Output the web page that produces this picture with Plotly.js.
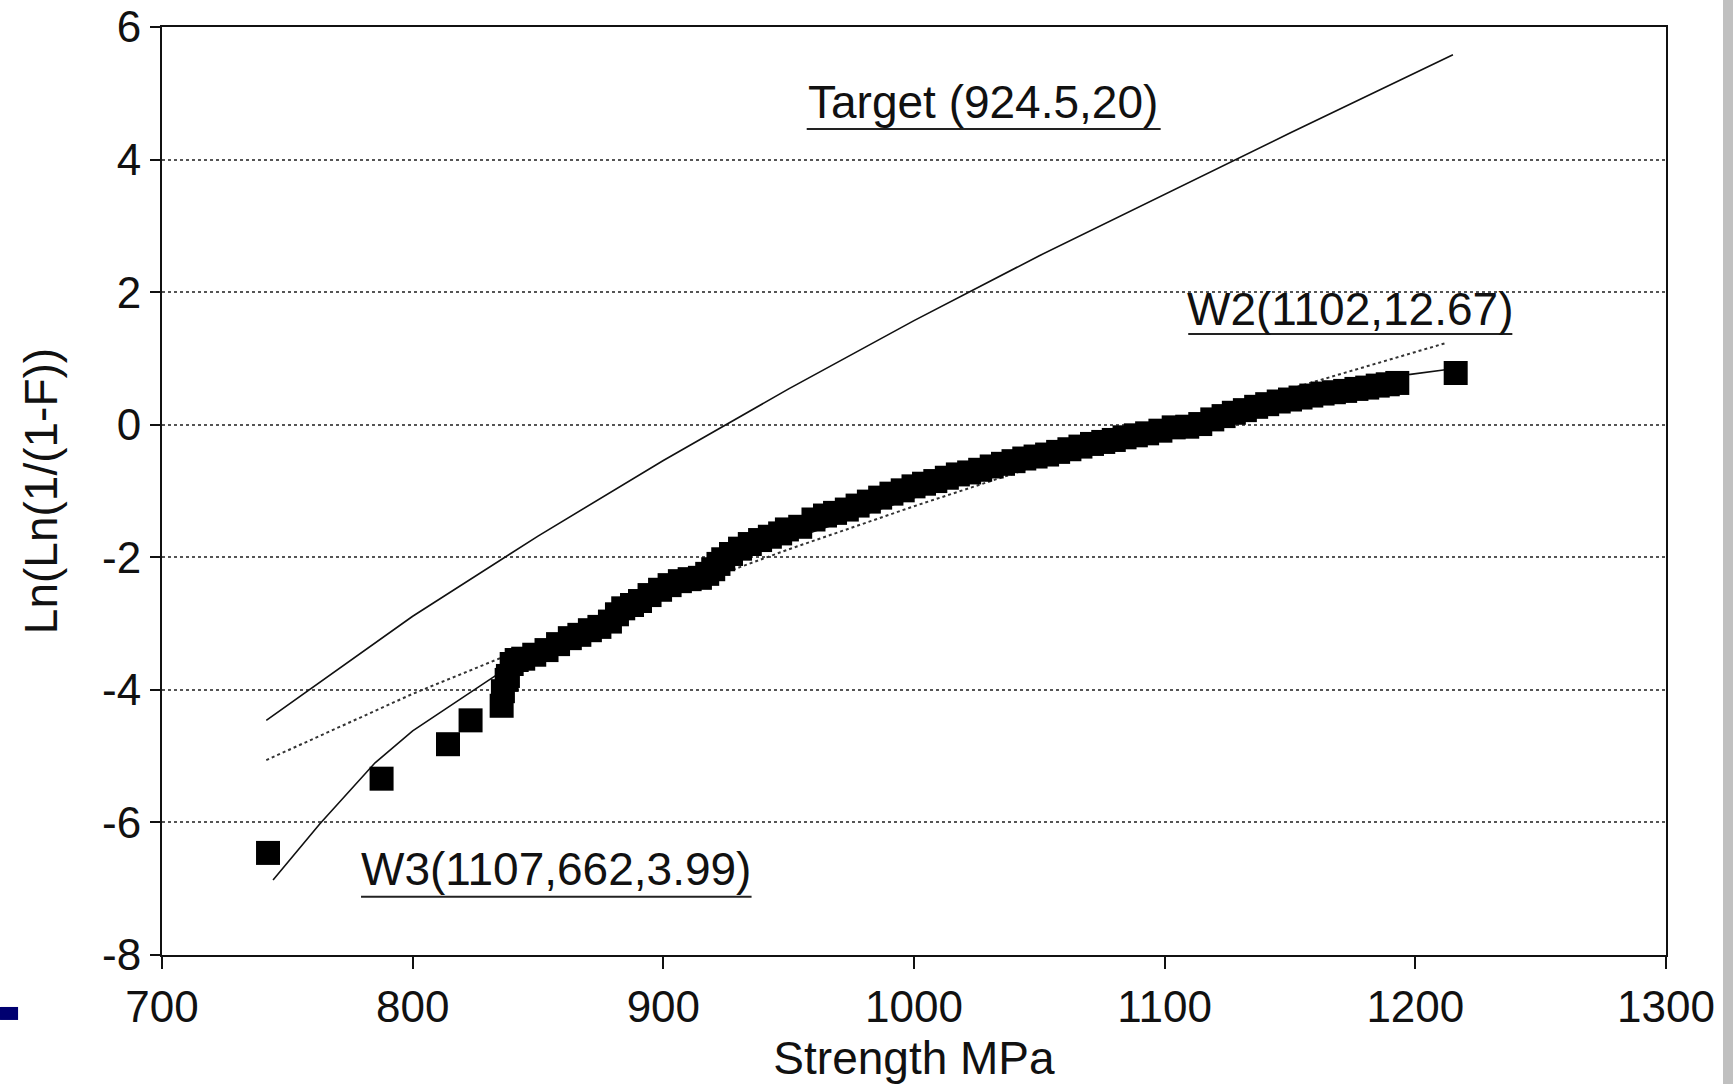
<!DOCTYPE html>
<html>
<head>
<meta charset="utf-8">
<script src="https://cdn.plot.ly/plotly-3.0.1.min.js"></script>
<style>
  html, body { margin: 0; padding: 0; background: #fff; }
  #chart { width: 1733px; height: 1084px; }
</style>
</head>
<body>
<div id="chart"></div>
<script>
// ---- Data ----
const strength = [742.3, 787.6, 814.1, 823.1, 835.5, 836.0, 837.5, 838.0, 839.5, 841.5, 844.1, 848.5, 853.4, 858.0, 862.7, 866.5, 870.7, 874.5, 878.7, 881.5, 884.0, 887.5, 890.7, 894.5, 898.7, 902.5, 906.6, 910.5, 914.6, 917.5, 919.9, 922.0, 923.9, 927.0, 930.6, 934.5, 938.6, 942.5, 946.6, 949.3, 954.6, 959.9, 964.5, 968.5, 973.2, 977.5, 982.0, 986.5, 991.0, 995.5, 999.8, 1004.0, 1008.5, 1013.1, 1017.5, 1022.0, 1026.4, 1031.0, 1035.5, 1039.7, 1044.0, 1048.5, 1053.1, 1057.5, 1062.0, 1066.4, 1071.0, 1075.5, 1079.7, 1084.0, 1088.5, 1093.0, 1098.3, 1103.6, 1109.0, 1114.2, 1119.0, 1123.5, 1127.6, 1132.0, 1136.5, 1140.9, 1145.5, 1150.0, 1154.2, 1158.5, 1163.0, 1167.5, 1172.0, 1176.5, 1180.8, 1185.0, 1189.0, 1192.8, 1216.1];
const lnln = [-6.46, -5.34, -4.82, -4.46, -4.24, -4.02, -3.85, -3.79, -3.61, -3.55, -3.53, -3.47, -3.40, -3.31, -3.22, -3.17, -3.10, -3.05, -2.97, -2.86, -2.77, -2.72, -2.66, -2.57, -2.49, -2.42, -2.36, -2.33, -2.31, -2.25, -2.18, -2.10, -2.03, -1.95, -1.87, -1.80, -1.74, -1.69, -1.64, -1.58, -1.54, -1.43, -1.37, -1.33, -1.28, -1.22, -1.16, -1.10, -1.04, -0.99, -0.93, -0.89, -0.85, -0.80, -0.75, -0.72, -0.68, -0.63, -0.59, -0.55, -0.51, -0.48, -0.45, -0.41, -0.37, -0.33, -0.29, -0.26, -0.23, -0.19, -0.16, -0.13, -0.09, -0.04, -0.03, 0.01, 0.08, 0.13, 0.18, 0.22, 0.27, 0.31, 0.35, 0.38, 0.41, 0.44, 0.47, 0.49, 0.51, 0.54, 0.56, 0.59, 0.61, 0.63, 0.78];

const targetX = [741.6, 800, 850, 900, 950, 1000, 1050, 1100, 1150, 1215];
const targetY = [-4.46, -2.89, -1.68, -0.54, 0.54, 1.57, 2.55, 3.48, 4.40, 5.58];

const w2X = [741.6, 800, 850, 900, 950, 1000, 1050, 1100, 1150, 1212];
const w2Y = [-5.06, -4.06, -3.29, -2.57, -1.88, -1.23, -0.61, -0.02, 0.54, 1.23];

const w3X = [744.3, 763, 785, 800, 838, 900, 950, 1000, 1050, 1100, 1150, 1198, 1212];
const w3Y = [-6.87, -6.02, -5.10, -4.62, -3.66, -2.50, -1.74, -1.10, -0.55, -0.06, 0.37, 0.76, 0.83];

const xTicks = [700, 800, 900, 1000, 1100, 1200, 1300];
const yTicks = [-8, -6, -4, -2, 0, 2, 4, 6];

const labelTexts = ["Target (924.5,20)", "W2(1102,12.67)", "W3(1107,662,3.99)"];
const labelX = [1027.5, 1173.8, 857.3];
const labelY = [4.87, 1.74, -6.70];
// underline extents of each label (data units)
const ulX0 = [957.2, 1109.4, 779.4];
const ulX1 = [1098.4, 1238.7, 935.2];
const ulY = [4.46, 1.37, -7.12];

// ---- Chart ----
const FONT = '"Liberation Sans", Arial, Helvetica, sans-serif';

const traces = [
  { x: targetX, y: targetY, mode: 'lines', line: { color: '#111', width: 1.6 }, showlegend: false, hoverinfo: 'skip' },
  { x: w2X, y: w2Y, mode: 'lines', line: { color: '#333', width: 2, dash: 'dot' }, showlegend: false, hoverinfo: 'skip' },
  { x: w3X, y: w3Y, mode: 'lines', line: { color: '#111', width: 1.6 }, showlegend: false, hoverinfo: 'skip' },
  { x: strength, y: lnln, mode: 'markers', marker: { symbol: 'square', size: 24, color: '#000' }, showlegend: false }
];

const annotations = labelTexts.map((t, i) => ({
  x: labelX[i], y: labelY[i], xref: 'x', yref: 'y',
  text: t,
  showarrow: false, xanchor: 'center', yanchor: 'middle',
  font: { family: FONT, size: 46, color: '#111' }
}));

const underlines = labelTexts.map((t, i) => ({
  type: 'line', xref: 'x', yref: 'y',
  x0: ulX0[i], x1: ulX1[i], y0: ulY[i], y1: ulY[i],
  line: { color: '#222', width: 2 }
}));

const layout = {
  width: 1733, height: 1084,
  margin: { l: 162, r: 67, t: 27, b: 129 },
  paper_bgcolor: '#fff', plot_bgcolor: '#fff',
  font: { family: FONT, size: 44, color: '#111' },
  xaxis: {
    range: [700, 1300], tickvals: xTicks, ticktext: xTicks.map(String),
    showgrid: false, zeroline: false,
    showline: true, linecolor: '#111', linewidth: 2, mirror: true,
    ticks: 'outside', ticklen: 12, tickwidth: 2, tickcolor: '#111',
    ticklabeloverflow: 'allow',
    tickfont: { family: FONT, size: 44, color: '#111' },
    title: { text: 'Strength MPa', font: { family: FONT, size: 46, color: '#111' }, standoff: 14 }
  },
  yaxis: {
    range: [-8, 6], tickvals: yTicks, ticktext: yTicks.map(String),
    showgrid: true, gridcolor: '#555', gridwidth: 2, griddash: 'dot',
    zeroline: false,
    showline: true, linecolor: '#111', linewidth: 2, mirror: true,
    ticks: 'outside', ticklen: 10, tickwidth: 2, tickcolor: '#111',
    ticklabeloverflow: 'allow',
    tickfont: { family: FONT, size: 44, color: '#111' },
    title: { text: 'Ln(Ln(1/(1-F))', font: { family: FONT, size: 46, color: '#111' }, standoff: 30 }
  },
  annotations: annotations,
  shapes: underlines.concat([
    { type: 'rect', xref: 'paper', yref: 'paper', x0: -0.1077, x1: -0.0957, y0: -0.070, y1: -0.056, fillcolor: '#000070', line: { width: 0 } },
    { type: 'rect', xref: 'paper', yref: 'paper', x0: 1.0379, x1: 1.046, y0: -0.15, y1: 1.03, fillcolor: '#c0c0c0', line: { width: 0 } }
  ])
};

Plotly.newPlot('chart', traces, layout, { displayModeBar: false, staticPlot: true });
</script>
</body>
</html>
